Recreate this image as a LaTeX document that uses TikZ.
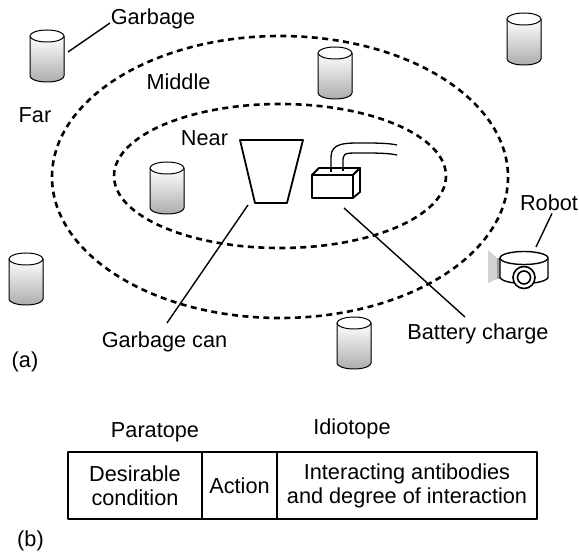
\documentclass[tikz,border=0pt]{standalone}
\usepackage{fontspec}
\setmainfont{Liberation Sans}
\tikzset{
 zone/.style={dash pattern=on 6pt off 4.5pt,line width=2.6pt},
 lead/.style={line width=1.4pt},
 lbl/.style={font=\fontsize{21.7}{24}\selectfont,inner sep=2pt,anchor=base},
 cell/.style={draw,line width=1.6pt,font=\fontsize{21.7}{24}\selectfont,align=center,
  minimum height=67pt,inner sep=0pt},
 bin/.pic={
  \fill[top color=white,bottom color=gray!65] (-17,6) -- (-17,46)
   arc[start angle=180,end angle=0,x radius=17,y radius=6] -- (17,6) -- cycle;
  \draw[line width=1pt] (-17,6) -- (-17,46)
   arc[start angle=180,end angle=0,x radius=17,y radius=6] -- (17,6);
  \draw[line width=1pt,fill=white] (0,6) ellipse[x radius=17,y radius=6];
 }}

\begin{document}
\begin{tikzpicture}[x=1pt,y=-1pt,line join=round]
 \useasboundingbox (0,0) rectangle (579,556);
 % distance zones
 \draw[zone] (280,177) ellipse[x radius=228,y radius=141];
 \draw[zone] (280,176) ellipse[x radius=166,y radius=72];
 \node[lbl] (far) at (35,123) {Far};
 \node[lbl] (middle) at (178.5,90) {Middle};
 \node[lbl] (near) at (204.5,146) {Near};
 % garbage
 \pic at (47,30) {bin};
 \pic at (335,47) {bin};
 \pic at (524,13) {bin};
 \pic at (167,162) {bin};
 \pic at (26,253) {bin};
 \pic at (354,317) {bin};
 \node[lbl] (garbage) at (153,25) {Garbage};
 \coordinate (bin0) at (68,52);
 \coordinate (garbagetip) at (110,23);
 \draw[lead] (bin0) -- (garbagetip);
 % garbage can
 \draw[line width=1.8pt] (240,140) -- (303,140) -- (287,203) -- (255,203) -- cycle;
 \coordinate (canfoot) at (248,205);
 \node[lbl] (cantext) at (164.5,348) {Garbage can};
 \coordinate (cantip) at (167,323);
 \draw[lead] (canfoot) -- (cantip);
 % battery charger
 \draw[line width=1.3pt] (331,172) -- (331,157) .. controls (331,143) and (345,143) .. (360,143)
  .. controls (375,143) and (388,143) .. (397,145);
 \draw[line width=1.3pt] (343,171) -- (343,163) .. controls (343,153) .. (360,153)
  .. controls (375,153) and (388,153) .. (397,155);
 \draw[line width=1.8pt,fill=white] (312,175) rectangle (353,198);
 \draw[line width=1.8pt,fill=white] (312,175) -- (319,168) -- (360,168) -- (353,175) -- cycle;
 \draw[line width=1.8pt,fill=white] (353,175) -- (360,168) -- (360,192) -- (353,198) -- cycle;
 \draw[line width=1.3pt] (331,172) -- (331,168) (343,171) -- (343,168);
 \coordinate (batfoot) at (344,208);
 \node[lbl] (battext) at (478,340) {Battery charge};
 \coordinate (battip) at (465,317);
 \draw[lead] (batfoot) -- (battip);
 % robot
 \fill[gray!35] (488,250) -- (497,258) -- (497,279) -- (488,283) -- cycle;
 \fill[gray!75] (497,258) rectangle (502,279);
 \draw[line width=1.4pt,fill=white] (500,258) -- (500,277)
  arc[start angle=180,end angle=0,x radius=24,y radius=6.5] -- (548,258);
 \draw[line width=1.4pt,fill=white] (524,258) ellipse[x radius=24,y radius=6.5];
 \draw[line width=1.6pt,fill=white] (524,277.5) circle[radius=11];
 \draw[line width=1.6pt] (524,277.5) circle[radius=6.5];
 \node[lbl] (robot) at (549,211) {Robot};
 \coordinate (robottop) at (536,247);
 \draw[lead] ([xshift=3pt]robot.south) -- (robottop);
 \node[lbl] (parta) at (25,368) {(a)};
 % antibody layout
 \node[lbl] (paratope) at (155,438) {Paratope};
 \node[lbl] (idiotope) at (352,435) {Idiotope};
 \node[cell,minimum width=134pt] (cond) at (135,485.5) {Desirable\\condition};
 \node[cell,minimum width=75pt] (act) at (239.5,485.5) {Action};
 \node[cell,minimum width=260pt] (inter) at (407,485.5)
  {Interacting antibodies\\and degree of interaction};
 \node[lbl] (partb) at (30.5,546) {(b)};
\end{tikzpicture}
\end{document}
